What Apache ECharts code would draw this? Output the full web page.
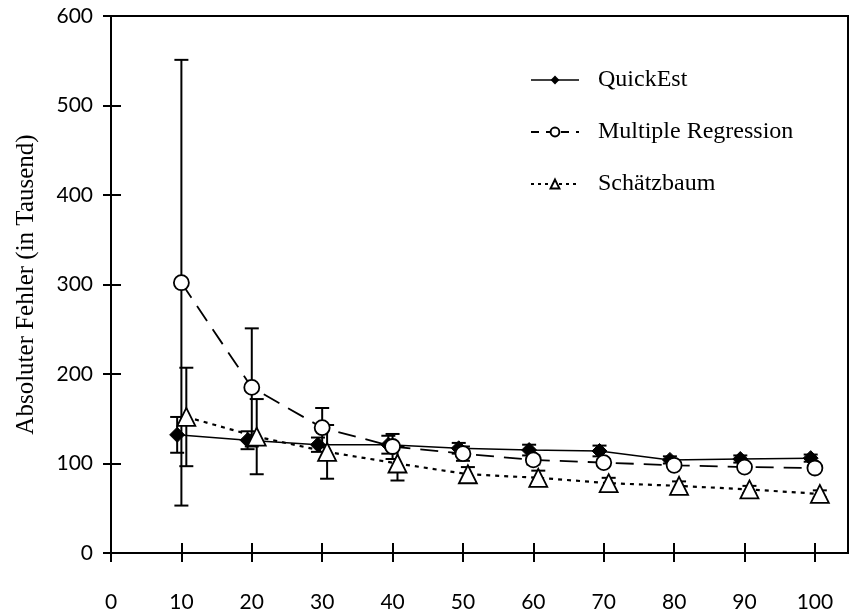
<!DOCTYPE html>
<html>
<head>
<meta charset="utf-8">
<script src="https://cdn.jsdelivr.net/npm/echarts@6/dist/echarts.min.js"></script>
<style>
  html, body { margin: 0; padding: 0; background: #fff; }
  #chart { width: 850px; height: 616px; }
</style>
</head>
<body>
<div id="chart"></div>
<script>
// Stichprobengröße (x) und Ergebnisse je Verfahren
const sizes = [10, 20, 30, 40, 50, 60, 70, 80, 90, 100];
const xTicks = [0, 10, 20, 30, 40, 50, 60, 70, 80, 90, 100];

const quickMean = [132, 126, 121, 121, 117, 115, 114, 104, 105, 106];
const quickSd   = [20, 10, 8, 10, 6, 6, 6, 4, 4, 4];

const regMean = [302, 185, 140, 119, 111, 104, 101, 98, 96, 95];
const regSd   = [249, 66, 22, 14, 8, 5, 4, 3, 3, 3];

const treeMean = [152, 130, 113, 100, 88, 84, 78, 75, 71, 66];
const treeSd   = [55, 42, 30, 19, 8, 8, 6, 5, 4, 4];

const names = ['QuickEst', 'Multiple Regression', 'Schätzbaum'];

// kleine horizontale Verschiebung, damit sich die Fehlerbalken nicht verdecken
const dodge = [-0.6, 0, 0.7];

const chart = echarts.init(document.getElementById('chart'));

const tickFont = { fontFamily: 'Lato', fontSize: 21, color: '#000' };
const serif = 'Liberation Serif';

function points(means, d) {
  return sizes.map((x, i) => [x + d, means[i]]);
}
function bars(means, sds, d) {
  return sizes.map((x, i) => [x + d, means[i] - sds[i], means[i] + sds[i]]);
}

function renderErr(params, api) {
  const x = api.value(0);
  const lo = api.coord([x, api.value(1)]);
  const hi = api.coord([x, api.value(2)]);
  const w = 7;
  const st = { stroke: '#000', lineWidth: 2 };
  return {
    type: 'group',
    children: [
      { type: 'line', shape: { x1: lo[0], y1: lo[1], x2: hi[0], y2: hi[1] }, style: st },
      { type: 'line', shape: { x1: lo[0] - w, y1: lo[1], x2: lo[0] + w, y2: lo[1] }, style: st },
      { type: 'line', shape: { x1: hi[0] - w, y1: hi[1], x2: hi[0] + w, y2: hi[1] }, style: st }
    ]
  };
}

function errSeries(means, sds, d) {
  return {
    type: 'custom',
    renderItem: renderErr,
    data: bars(means, sds, d),
    encode: { x: 0, y: [1, 2] },
    z: 1,
    silent: true
  };
}

const option = {
  animation: false,
  grid: {
    left: 111, top: 16, right: 2, bottom: 63,
    show: true, borderColor: '#000', borderWidth: 2
  },
  legend: {
    data: [
      { name: names[0], lineStyle: { type: 'solid', width: 1.5 } },
      { name: names[1], lineStyle: { type: [8, 7], width: 2 } },
      { name: names[2], lineStyle: { type: [3, 4], width: 2 } }
    ],
    orient: 'vertical',
    left: 525,
    top: 63,
    itemWidth: 48,
    itemHeight: 11,
    itemGap: 28,
    textStyle: { fontFamily: serif, fontSize: 24, color: '#000', padding: [0, 0, 0, 14] }
  },
  xAxis: [
    {
      type: 'value', min: 0, max: 104.7,
      axisLine: { lineStyle: { color: '#000', width: 2 } },
      axisTick: { customValues: xTicks, length: 9, lineStyle: { color: '#000', width: 2 } },
      axisLabel: { customValues: xTicks, margin: 39, ...tickFont },
      splitLine: { show: false }
    },
    {
      type: 'value', min: 0, max: 104.7, position: 'bottom',
      axisLine: { show: false },
      axisTick: { customValues: xTicks, inside: true, length: 10, lineStyle: { color: '#000', width: 2 } },
      axisLabel: { show: false },
      splitLine: { show: false }
    }
  ],
  yAxis: [
    {
      type: 'value', min: 0, max: 600, interval: 100,
      name: 'Absoluter Fehler (in Tausend)',
      nameLocation: 'middle',
      nameGap: 72,
      nameTextStyle: { fontFamily: serif, fontSize: 25, color: '#000' },
      axisLine: { show: true, lineStyle: { color: '#000', width: 2 } },
      axisTick: { length: 8, lineStyle: { color: '#000', width: 2 } },
      axisLabel: { margin: 18, ...tickFont },
      splitLine: { show: false }
    },
    {
      type: 'value', min: 0, max: 600, interval: 100, position: 'left',
      axisLine: { show: false },
      axisTick: { inside: true, length: 10, lineStyle: { color: '#000', width: 2 } },
      axisLabel: { show: false },
      splitLine: { show: false }
    }
  ],
  series: [
    errSeries(quickMean, quickSd, dodge[0]),
    errSeries(regMean, regSd, dodge[1]),
    errSeries(treeMean, treeSd, dodge[2]),
    {
      name: names[0], type: 'line',
      data: points(quickMean, dodge[0]),
      symbol: 'diamond', symbolSize: 15,
      lineStyle: { color: '#000', width: 1.5, type: 'solid' },
      itemStyle: { color: '#000', borderColor: '#000' },
      z: 3
    },
    {
      name: names[1], type: 'line',
      data: points(regMean, dodge[1]),
      symbol: 'circle', symbolSize: 15,
      lineStyle: { color: '#000', width: 1.8, type: [18, 10] },
      itemStyle: { color: '#fff', borderColor: '#000', borderWidth: 1.8 },
      z: 4
    },
    {
      name: names[2], type: 'line',
      data: points(treeMean, dodge[2]),
      symbol: 'triangle', symbolSize: 18,
      lineStyle: { color: '#000', width: 2.2, type: [4, 5] },
      itemStyle: { color: '#fff', borderColor: '#000', borderWidth: 1.8 },
      z: 5
    }
  ]
};

chart.setOption(option);
</script>
</body>
</html>
